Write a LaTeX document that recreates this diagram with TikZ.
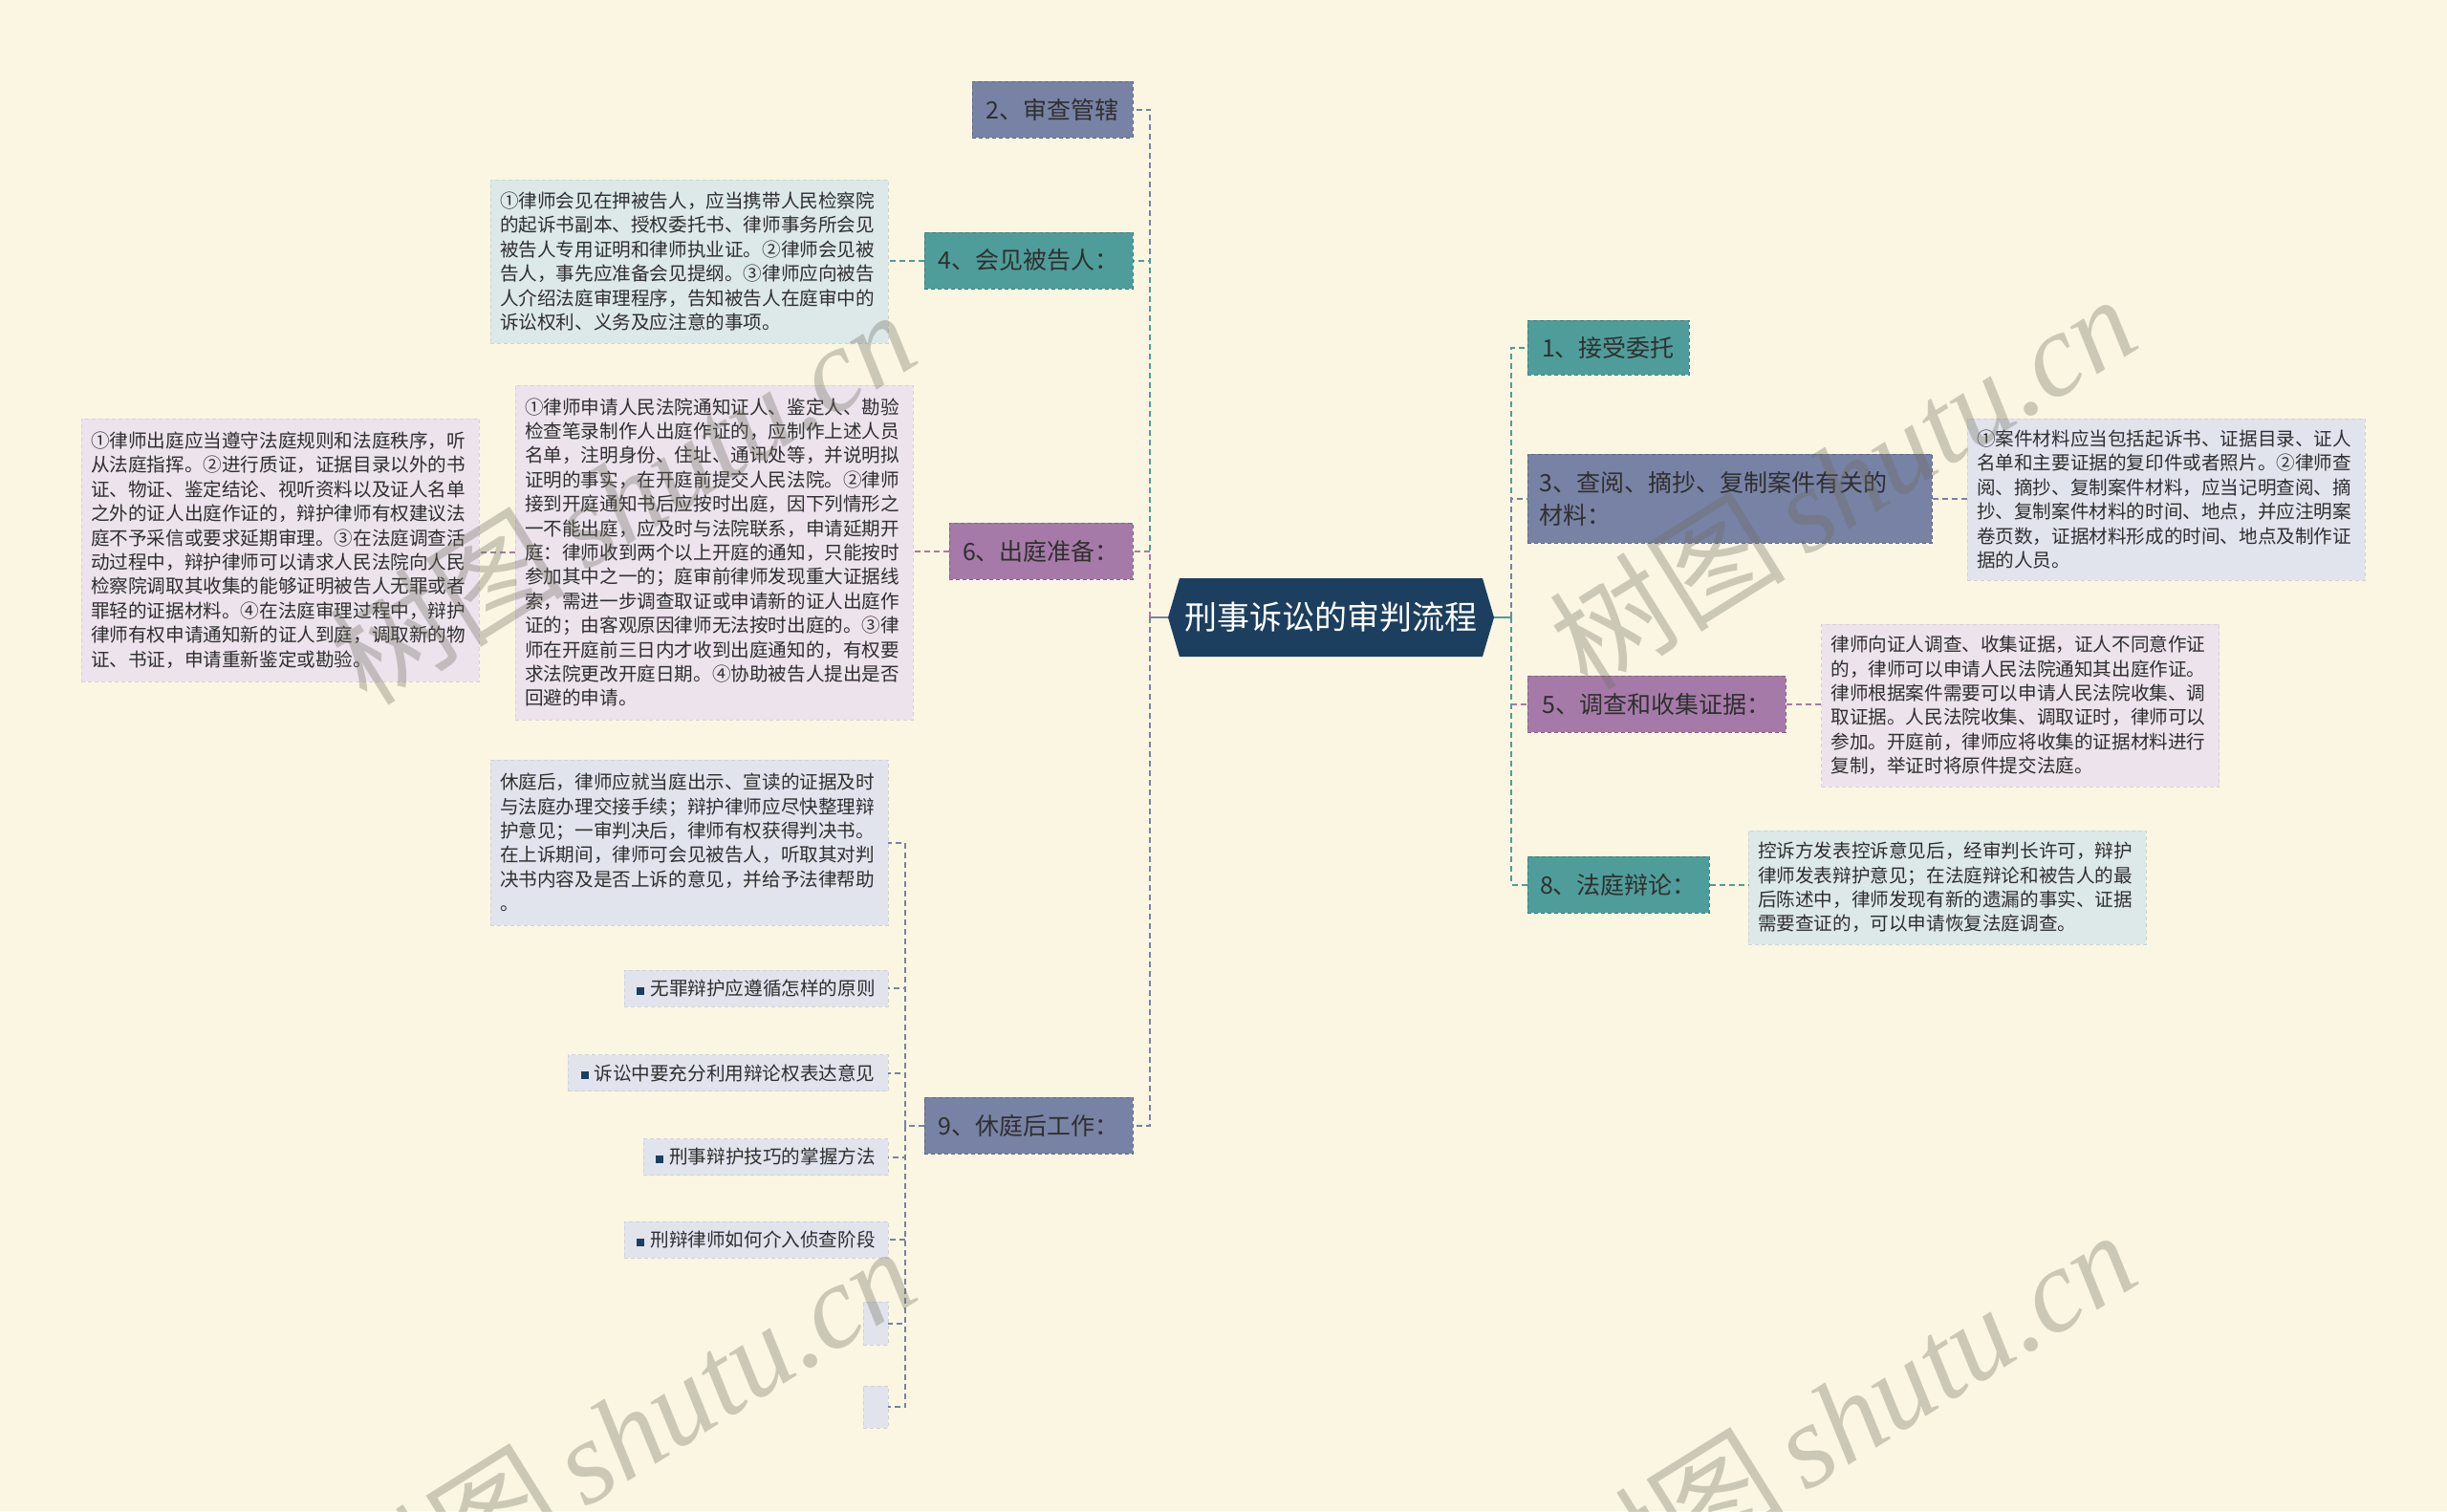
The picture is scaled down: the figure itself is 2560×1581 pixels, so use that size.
\documentclass[tikz,border=0pt]{standalone}
\usepackage{fontspec}
\setmainfont{Noto Sans CJK SC}
\newfontfamily\wmserif{Liberation Serif}
\definecolor{bgc}{HTML}{FAF6E2}
\definecolor{navy}{HTML}{1C3F5F}
\definecolor{tealc}{HTML}{4F9D9A}
\definecolor{bluec}{HTML}{7882A4}
\definecolor{purc}{HTML}{A67AA8}
\definecolor{dteal}{HTML}{DDE8E8}
\definecolor{dpur}{HTML}{ECE3EC}
\definecolor{dblue}{HTML}{E1E4ED}
\definecolor{txt}{HTML}{2F2F2F}
\definecolor{wm}{HTML}{6E6C5E}
\newcommand{\mybullet}{{\color{navy}\rule[0.4pt]{4pt}{4pt}}\hspace{3pt}}
\tikzset{
  lvone/.style={rectangle, fill=#1, draw=#1!80!black, dash pattern=on 2pt off 1.5pt, line width=0.5pt, text=txt,
    font=\fontsize{12.5pt}{17pt}\selectfont, inner xsep=0pt, inner ysep=0pt, minimum height=29.5pt},
  detail/.style={rectangle, fill=#1, draw=#1!92!black, dash pattern=on 2pt off 1.5pt, line width=0.4pt, text=txt,
    font=\fontsize{9.8pt}{12.7pt}\selectfont, align=left, text width=198pt, inner xsep=5pt, inner ysep=0pt},
  linkitem/.style={rectangle, fill=dblue, draw=dblue!92!black, dash pattern=on 2pt off 1.5pt, line width=0.4pt, text=txt,
    font=\fontsize{9.8pt}{12pt}\selectfont, inner sep=0pt, minimum height=19pt},
  conn/.style={line width=1pt, dash pattern=on 3pt off 2pt, draw=#1},
  stem/.style={line width=1.2pt, draw=#1},
  wmark/.style={text=wm, text opacity=0.33, rotate=32, font=\fontsize{62pt}{62pt}\selectfont, inner sep=0pt}
}
\begin{document}
\begin{tikzpicture}[x=0.5pt, y=-0.5pt]
\useasboundingbox (0,0) rectangle (2560,1581);
\fill[bgc] (0,0) rectangle (2560,1581);

% root
\fill[navy] (1222,646) -- (1234,605) -- (1551,605) -- (1563,646) -- (1551,687) -- (1234,687) -- cycle;
\node[font=\fontsize{17pt}{20pt}\selectfont, text=white, minimum width=170.5pt, minimum height=41pt, inner sep=0pt] (root) at (1392.5,646) {刑事诉讼的审判流程};

% level one, left
\node[lvone=bluec, minimum width=84pt] (L2) at (1101,114.5) {2、审查管辖};
\node[lvone=tealc, minimum width=109pt] (L4) at (1076,272.5) {4、会见被告人：};
\node[lvone=purc, minimum width=96pt] (L6) at (1089,576.5) {6、出庭准备：};
\node[lvone=bluec, minimum width=109pt] (L9) at (1076,1177.5) {9、休庭后工作：};

% level one, right
\node[lvone=tealc, minimum width=84.5pt, minimum height=28.5pt] (R1) at (1682.5,363.5) {1、接受委托};
\node[lvone=bluec, minimum width=211.5pt, minimum height=46.5pt, align=left, text width=199pt] (R3) at (1809.5,521.5) {3、查阅、摘抄、复制案件有关的\\材料：};
\node[lvone=purc, minimum width=135pt] (R5) at (1733,736.5) {5、调查和收集证据：};
\node[lvone=tealc, minimum width=95pt] (R8) at (1693,925.5) {8、法庭辩论：};

% details
\node[detail=dteal, minimum height=85.5pt] (D4) at (721,273.5) {①律师会见在押被告人，应当携带人民检察院\\
的起诉书副本、授权委托书、律师事务所会见\\
被告人专用证明和律师执业证。②律师会见被\\
告人，事先应准备会见提纲。③律师应向被告\\
人介绍法庭审理程序，告知被告人在庭审中的\\
诉讼权利、义务及应注意的事项。};

\node[detail=dpur, minimum height=175pt] (D6) at (747,578) {①律师申请人民法院通知证人、鉴定人、勘验\\
检查笔录制作人出庭作证的，应制作上述人员\\
名单，注明身份、住址、通讯处等，并说明拟\\
证明的事实，在开庭前提交人民法院。②律师\\
接到开庭通知书后应按时出庭，因下列情形之\\
一不能出庭，应及时与法院联系，申请延期开\\
庭：律师收到两个以上开庭的通知，只能按时\\
参加其中之一的；庭审前律师发现重大证据线\\
索，需进一步调查取证或申请新的证人出庭作\\
证的；由客观原因律师无法按时出庭的。③律\\
师在开庭前三日内才收到出庭通知的，有权要\\
求法院更改开庭日期。④协助被告人提出是否\\
回避的申请。};

\node[detail=dpur, minimum height=137.5pt] (D6b) at (293,575.5) {①律师出庭应当遵守法庭规则和法庭秩序，听\\
从法庭指挥。②进行质证，证据目录以外的书\\
证、物证、鉴定结论、视听资料以及证人名单\\
之外的证人出庭作证的，辩护律师有权建议法\\
庭不予采信或要求延期审理。③在法庭调查活\\
动过程中，辩护律师可以请求人民法院向人民\\
检察院调取其收集的能够证明被告人无罪或者\\
罪轻的证据材料。④在法庭审理过程中，辩护\\
律师有权申请通知新的证人到庭，调取新的物\\
证、书证，申请重新鉴定或勘验。};

\node[detail=dblue, minimum height=86.5pt] (D9) at (721,881.5) {休庭后，律师应就当庭出示、宣读的证据及时\\
与法庭办理交接手续；辩护律师应尽快整理辩\\
护意见；一审判决后，律师有权获得判决书。\\
在上诉期间，律师可会见被告人，听取其对判\\
决书内容及是否上诉的意见，并给予法律帮助\\
。};

\node[detail=dblue, minimum height=84.5pt] (D3) at (2266,522.5) {①案件材料应当包括起诉书、证据目录、证人\\
名单和主要证据的复印件或者照片。②律师查\\
阅、摘抄、复制案件材料，应当记明查阅、摘\\
抄、复制案件材料的时间、地点，并应注明案\\
卷页数，证据材料形成的时间、地点及制作证\\
据的人员。};

\node[detail=dpur, minimum height=85pt] (D5) at (2113.5,738) {律师向证人调查、收集证据，证人不同意作证\\
的，律师可以申请人民法院通知其出庭作证。\\
律师根据案件需要可以申请人民法院收集、调\\
取证据。人民法院收集、调取证时，律师可以\\
参加。开庭前，律师应将收集的证据材料进行\\
复制，举证时将原件提交法庭。};

\node[detail=dteal, minimum height=59.5pt] (D8) at (2037,928.5) {控诉方发表控诉意见后，经审判长许可，辩护\\
律师发表辩护意见；在法庭辩论和被告人的最\\
后陈述中，律师发现有新的遗漏的事实、证据\\
需要查证的，可以申请恢复法庭调查。};

% items under 9
\node[linkitem, minimum width=138pt] (I1) at (791,1034) {\mybullet 无罪辩护应遵循怎样的原则};
\node[linkitem, minimum width=167.5pt] (I2) at (761.5,1122.5) {\mybullet 诉讼中要充分利用辩论权表达意见};
\node[linkitem, minimum width=128pt] (I3) at (801,1210.5) {\mybullet 刑事辩护技巧的掌握方法};
\node[linkitem, minimum width=138pt] (I4) at (791,1297) {\mybullet 刑辩律师如何介入侦查阶段};
\node[linkitem, minimum width=13pt, minimum height=22.5pt] (E1) at (916,1384.5) {};
\node[linkitem, minimum width=13pt, minimum height=22pt] (E2) at (916,1472) {};

% connectors
\coordinate (LT) at (1203,646);
\coordinate (RT) at (1581,646);
\coordinate (ST) at (947,1177.5);

\draw[stem=bluec] (root.west) -- (LT);
\draw[stem=tealc] (root.east) -- (RT);

\draw[conn=bluec] (LT) |- (L2.east);
\draw[conn=tealc] (LT) |- (L4.east);
\draw[conn=purc] (LT) |- (L6.east);
\draw[conn=bluec] (LT) |- (L9.east);

\draw[conn=tealc] (RT) |- (R1.west);
\draw[conn=bluec] (RT) |- (R3.west);
\draw[conn=purc] (RT) |- (R5.west);
\draw[conn=tealc] (RT) |- (R8.west);

\draw[conn=tealc] (L4.west) -- (L4.west -| D4.east);
\draw[conn=purc] (L6.west) -- (L6.west -| D6.east);
\draw[conn=purc] (D6.west) -- (D6.west -| D6b.east);
\draw[conn=bluec] (R3.east) -- (R3.east -| D3.west);
\draw[conn=purc] (R5.east) -- (R5.east -| D5.west);
\draw[conn=tealc] (R8.east) -- (R8.east -| D8.west);

\draw[conn=bluec] (L9.west) -- (ST);
\foreach \n in {D9,I1,I2,I3,I4,E1,E2} \draw[conn=bluec] (ST) |- (\n.east);

% watermarks
\node[wmark] (wm1) at (650,519) {树图\,{\wmserif\itshape shutu.cn}};
\node[wmark] (wm2) at (1927,503) {树图\,{\wmserif\itshape shutu.cn}};
\node[wmark] (wm3) at (650,1499) {树图\,{\wmserif\itshape shutu.cn}};
\node[wmark] (wm4) at (1927,1482) {树图\,{\wmserif\itshape shutu.cn}};
\end{tikzpicture}
\end{document}
